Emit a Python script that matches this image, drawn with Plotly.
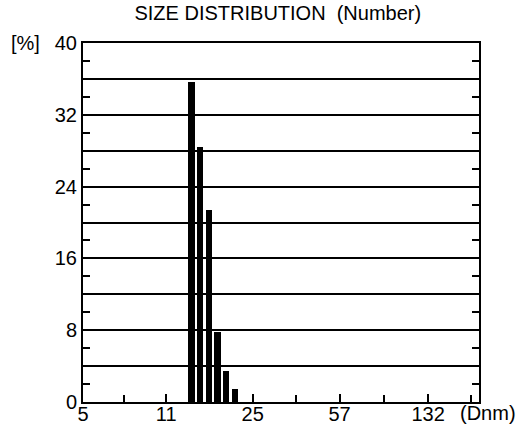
import numpy as np
import plotly.graph_objects as go

# Particle diameter classes (nm) and their number share (%)
diameter_nm = [14.0, 15.2, 16.5, 17.9, 19.4, 21.1]
number_pct = [35.6, 28.4, 21.4, 7.8, 3.4, 1.4]

# Axis labelling
x_tick_labels = [5, 11, 25, 57, 132]
x_minor_ticks = [7.4, 16.6, 37.7, 86.7, 199.0]
y_label_step = 8
y_tick_step = 2
y_grid_step = 4

FONT = "Liberation Sans"
x_min, x_max = 5.0, 214.0
y_max = 40

# Diameter axis is logarithmic: plot on log10 positions
x_pos = np.log10(diameter_nm)

y_ticks = list(range(0, y_max + 1, y_tick_step))
y_text = [str(v) if v % y_label_step == 0 else "" for v in y_ticks]

fig = go.Figure()
fig.add_trace(go.Bar(
    x=x_pos,
    y=number_pct,
    width=0.027,
    marker=dict(color="black", line=dict(width=0)),
    showlegend=False,
))

fig.update_layout(
    width=526,
    height=434,
    margin=dict(l=83, r=47, t=43, b=32, autoexpand=False),
    paper_bgcolor="white",
    plot_bgcolor="white",
    font=dict(family=FONT, color="black", size=20),
    bargap=0,
    title=dict(
        text="SIZE DISTRIBUTION  (Number)",
        x=0.492, xanchor="center", xref="paper",
        y=1 - 13 / 434, yanchor="middle", yref="container",
        font=dict(family=FONT, size=20, color="black"),
        automargin=False,
    ),
    xaxis=dict(
        range=[np.log10(x_min), np.log10(x_max)],
        automargin=False,
        tickmode="array",
        tickvals=np.log10(x_tick_labels),
        ticktext=[str(v) for v in x_tick_labels],
        ticks="inside", ticklen=8, tickwidth=1.5, tickcolor="black",
        ticklabelstandoff=-7,
        showgrid=False, zeroline=False,
        showline=True, linecolor="black", linewidth=2, mirror=True,
        tickfont=dict(family=FONT, size=20, color="black"),
        minor=dict(
            tickmode="array",
            tickvals=np.log10(x_minor_ticks),
            ticks="inside", ticklen=7, tickwidth=1.5, tickcolor="black",
            showgrid=False,
        ),
    ),
    yaxis=dict(
        range=[0, y_max],
        automargin=False,
        tickmode="array",
        tickvals=y_ticks,
        ticktext=y_text,
        ticks="inside", ticklen=7, tickwidth=2, tickcolor="black",
        showgrid=False,
        zeroline=False,
        showline=True, linecolor="black", linewidth=2, mirror="allticks",
        tickfont=dict(family=FONT, size=20, color="black"),
        minor=dict(
            tick0=0, dtick=y_grid_step,
            ticks="", showgrid=True, gridcolor="black", gridwidth=1.5,
        ),
    ),
    annotations=[
        dict(text="[%]", xref="paper", yref="paper",
             x=-0.146, y=1.0, xanchor="center", yanchor="middle",
             showarrow=False, font=dict(family=FONT, size=20, color="black")),
        dict(text="(Dnm)", xref="paper", yref="paper",
             x=1.023, y=-0.031, xanchor="center", yanchor="middle",
             showarrow=False, font=dict(family=FONT, size=20, color="black")),
    ],
)

fig.write_html("out.html")
